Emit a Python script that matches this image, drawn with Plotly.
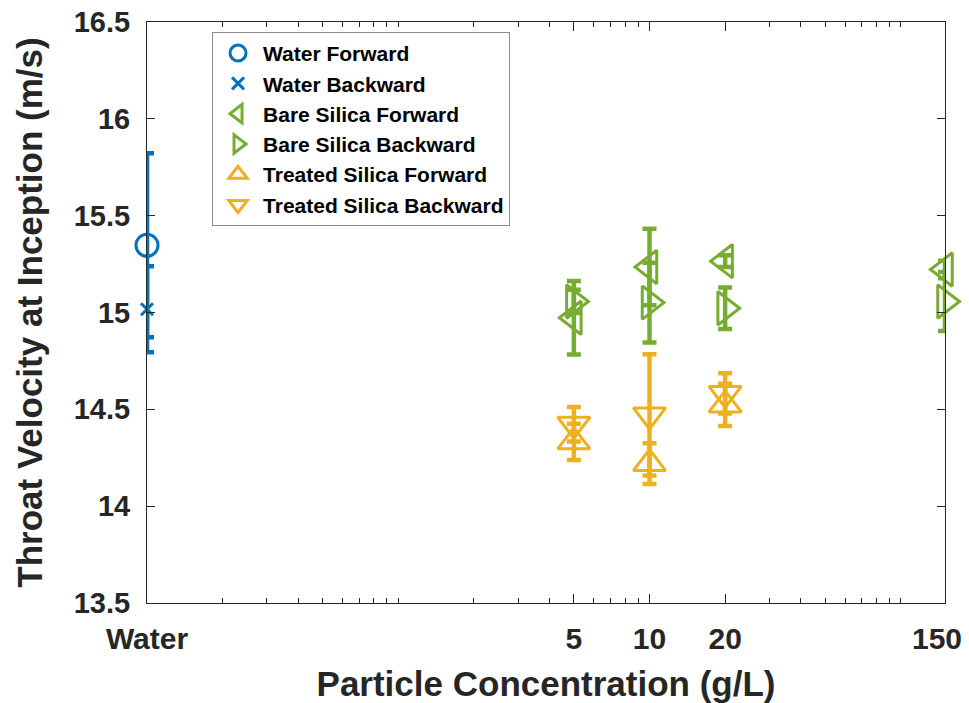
import math
import plotly.graph_objects as go

# ---- data ----
water_x = [0.1]
water_fwd = [15.347]
water_fwd_err = [0.475]
water_bwd = [15.017]
water_bwd_err = [0.222]

bare_x = [5, 10, 20, 150]
bare_fwd = [14.973, 15.235, 15.265, 15.222]
bare_fwd_err = [0.19, 0.198, 0.03, 0.045]
bare_bwd = [15.057, 15.051, 15.022, 15.057]
bare_bwd_err = [0.06, 0.206, 0.107, 0.152]

treated_x = [5, 10, 20]
treated_fwd = [14.332, 14.22, 14.523]
treated_fwd_err = [0.093, 0.105, 0.109]
treated_bwd = [14.423, 14.471, 14.582]
treated_bwd_err = [0.089, 0.313, 0.104]

x_tickvals = [0.1, 5, 10, 20, 150]
x_ticktext = ["Water", "5", "10", "20", "150"]
x_minor = [0.2, 0.3, 0.4, 0.5, 0.6, 0.7, 0.8, 0.9, 1, 2, 3, 4, 6, 7, 8, 9,
           30, 40, 50, 60, 70, 80, 90, 100]
y_tickvals = [13.5, 14, 14.5, 15, 15.5, 16, 16.5]
y_ticktext = ["13.5", "14", "14.5", "15", "15.5", "16", "16.5"]

BLUE = "#0072BD"
GREEN = "#77AC30"
YELLOW = "#EDB120"
AX = "#262626"
FONT = "Liberation Sans"

series = [
    ("Water Forward", water_x, water_fwd, water_fwd_err, BLUE, "circle-open", 22),
    ("Water Backward", water_x, water_bwd, water_bwd_err, BLUE, "x-thin-open", 12),
    ("Bare Silica Forward", bare_x, bare_fwd, bare_fwd_err, GREEN, "triangle-left-open", 29),
    ("Bare Silica Backward", bare_x, bare_bwd, bare_bwd_err, GREEN, "triangle-right-open", 29),
    ("Treated Silica Forward", treated_x, treated_fwd, treated_fwd_err, YELLOW, "triangle-up-open", 28),
    ("Treated Silica Backward", treated_x, treated_bwd, treated_bwd_err, YELLOW, "triangle-down-open", 28),
]

fig = go.Figure()
for name, xs, ys, es, col, sym, sz in series:
    fig.add_trace(go.Scatter(
        x=xs, y=ys, name=name, mode="markers", cliponaxis=False,
        marker=dict(symbol=sym, size=sz, color=col, line=dict(width=3, color=col)),
        error_y=dict(type="data", array=es, visible=True, color=col, thickness=4.5, width=7),
    ))

tickfont_x = dict(family=FONT, size=30, color=AX, weight="bold")

# last tick label (at the right edge) drawn as an annotation, nudged inward like the original
axis_ticktext = x_ticktext[:-1] + [""]
fig.add_annotation(
    x=math.log10(x_tickvals[-1]), xref="x", y=0, yref="paper", text=x_ticktext[-1],
    showarrow=False, xanchor="center", yanchor="middle", xshift=-8, yshift=-35,
    font=tickfont_x,
)

fig.update_layout(
    width=969, height=703,
    margin=dict(l=147, r=24, t=22, b=100),
    plot_bgcolor="white", paper_bgcolor="white",
    font=dict(family=FONT, color=AX),
    showlegend=True,
    legend=dict(
        x=0.0815, y=0.983, xanchor="left", yanchor="top",
        bgcolor="white", bordercolor="#8c8c8c", borderwidth=1,
        itemwidth=40,
        font=dict(family=FONT, size=21, color="black", weight="bold"),
    ),
    xaxis=dict(
        type="log", range=[-1, 2.1761], automargin=False,
        tickmode="array", tickvals=x_tickvals, ticktext=axis_ticktext,
        ticks="inside", ticklen=9, tickwidth=1, tickcolor=AX,
        showline=True, linecolor=AX, linewidth=1, mirror="ticks",
        showgrid=False, zeroline=False, ticklabeloverflow="allow",
        tickfont=tickfont_x,
        ticklabelstandoff=9,
        minor=dict(tickvals=x_minor, ticks="inside", ticklen=5, tickwidth=1,
                   tickcolor=AX, showgrid=False),
        title=dict(text="Particle Concentration (g/L)", standoff=24,
                   font=dict(family=FONT, size=35, color=AX, weight="bold")),
    ),
    yaxis=dict(
        range=[13.5, 16.5], automargin=False,
        tickmode="array", tickvals=y_tickvals, ticktext=y_ticktext,
        ticks="inside", ticklen=8, tickwidth=1, tickcolor=AX,
        showline=True, linecolor=AX, linewidth=1, mirror="ticks",
        showgrid=False, zeroline=False, ticklabeloverflow="allow",
        tickfont=dict(family=FONT, size=29, color=AX, weight="bold"),
        ticklabelstandoff=10,
        title=dict(text="Throat Velocity at Inception (m/s)", standoff=20,
                   font=dict(family=FONT, size=35, color=AX, weight="bold")),
    ),
)

fig.write_html("out.html")
